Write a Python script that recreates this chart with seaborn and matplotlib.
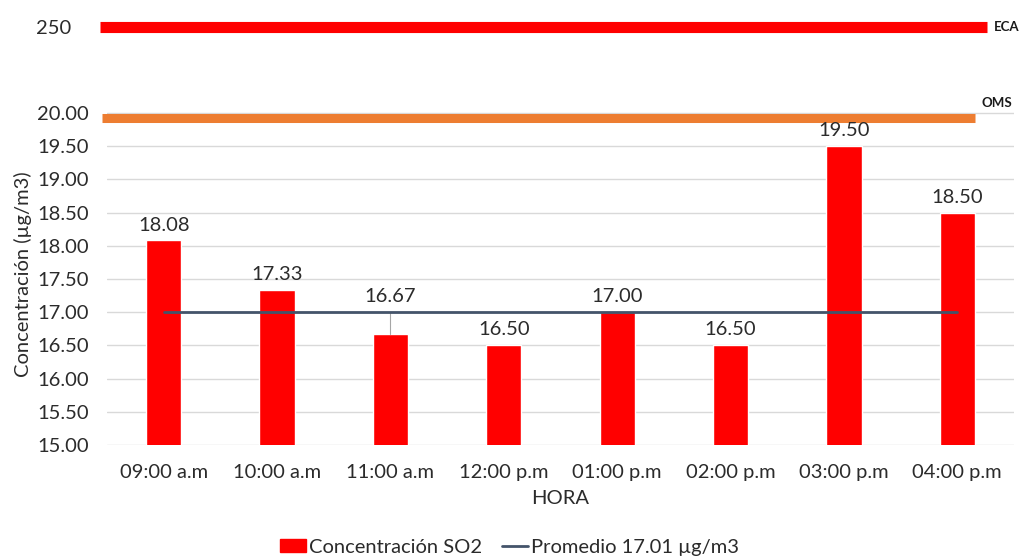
import matplotlib
matplotlib.use("Agg")
import matplotlib.pyplot as plt
from matplotlib.patches import Rectangle
from matplotlib.lines import Line2D
import seaborn as sns
import pandas as pd

# Hourly SO2 concentration data
horas = ["09:00 a.m", "10:00 a.m", "11:00 a.m", "12:00 p.m",
         "01:00 p.m", "02:00 p.m", "03:00 p.m", "04:00 p.m"]
concentracion = [18.08, 17.33, 16.67, 16.50, 17.00, 16.50, 19.50, 18.50]
promedio = 17.01
limite_eca = 250
limite_oms = 20.0
yticks = [15.00, 15.50, 16.00, 16.50, 17.00, 17.50, 18.00, 18.50, 19.00, 19.50, 20.00]

sns.set_style("white")
plt.rcParams["font.family"] = ["Lato", "DejaVu Sans"]
TXT = "#2b2b2b"
FS = 14.5

W, H = 1019, 559
fig = plt.figure(figsize=(W / 100, H / 100), dpi=100)

def px_axes(left, top, right, bottom):
    return fig.add_axes([left / W, 1 - bottom / H, (right - left) / W, (bottom - top) / H])

# Main panel (15 - 20 range)
ax = px_axes(107, 103, 1014, 445)
df = pd.DataFrame({"hora": horas, "valor": concentracion})
sns.barplot(data=df, x="hora", y="valor", color="#FF0000", saturation=1,
            width=0.31, ax=ax, zorder=2)
ax.set_ylim(15, 20.15)
ax.set_xlim(-0.5, len(horas) - 0.5)
ax.set_yticks(yticks)
ax.set_yticklabels([f"{v:.2f}" for v in yticks])
ax.yaxis.grid(True, color="#D9D9D9", lw=1, zorder=0)
ax.set_axisbelow(True)
for s in ax.spines.values():
    s.set_visible(False)
ax.tick_params(axis="y", length=0, pad=13, labelsize=FS, labelcolor=TXT)
ax.tick_params(axis="x", length=0, pad=14, labelsize=FS, labelcolor=TXT)
ax.set_xlabel("HORA", fontsize=FS, color=TXT, labelpad=6)
ax.set_ylabel("Concentración (µg/m3)", fontsize=FS, color=TXT, labelpad=4)

# Average line from first to last hour
xs = list(range(len(horas)))
ax.plot(xs, [promedio] * len(xs), color="#44546A", lw=2, zorder=4)

# Value labels (the 11:00 label is lifted above the average line with a leader)
for i, v in enumerate(concentracion):
    if i == 2:
        ax.plot([i, i], [v, 17.0], color="#A6A6A6", lw=0.8, zorder=3)
        anchor = 17.0
    else:
        anchor = v
    ax.annotate(f"{v:.2f}", xy=(i, anchor), xytext=(0, 5), textcoords="offset points",
                ha="center", va="bottom", fontsize=FS, color=TXT, zorder=5)

# OMS guideline
ax.plot([-0.544, 7.152], [limite_oms - 0.07, limite_oms - 0.07], color="#ED7D31",
        lw=6.5, solid_capstyle="butt", clip_on=False, zorder=3)
ax.text(7.21, limite_oms + 0.06, "OMS", fontsize=9.5, fontweight="bold",
        color="#1a1a1a", ha="left", va="bottom")

# ECA standard in a separate upper strip
ax2 = px_axes(107, 8, 1014, 40)
ax2.set_xlim(-0.5, len(horas) - 0.5)
ax2.set_ylim(249, 251.4)
ax2.plot([-0.562, 7.258], [limite_eca, limite_eca], color="#FF0000", lw=8,
         solid_capstyle="butt", clip_on=False)
ax2.text(7.32, limite_eca, "ECA", fontsize=9.5, fontweight="bold",
         color="#1a1a1a", ha="left", va="center")
ax2.set_yticks([limite_eca])
ax2.set_yticklabels([str(limite_eca)])
ax2.set_xticks([])
ax2.tick_params(axis="y", length=0, pad=26, labelsize=FS, labelcolor=TXT)
for s in ax2.spines.values():
    s.set_visible(False)
ax2.patch.set_alpha(0)

handles = [Rectangle((0, 0), 1, 1, color="#FF0000"),
           Line2D([0], [0], color="#44546A", lw=2)]
fig.legend(handles, ["Concentración SO2", "Promedio 17.01 µg/m3"],
           loc="lower center", bbox_to_anchor=(0.5, -0.027), ncol=2, frameon=False,
           fontsize=FS, labelcolor=TXT, handlelength=1.3, handleheight=0.6,
           handletextpad=0.15, columnspacing=1.0)

fig.savefig("out.png", dpi=100, facecolor="white")
